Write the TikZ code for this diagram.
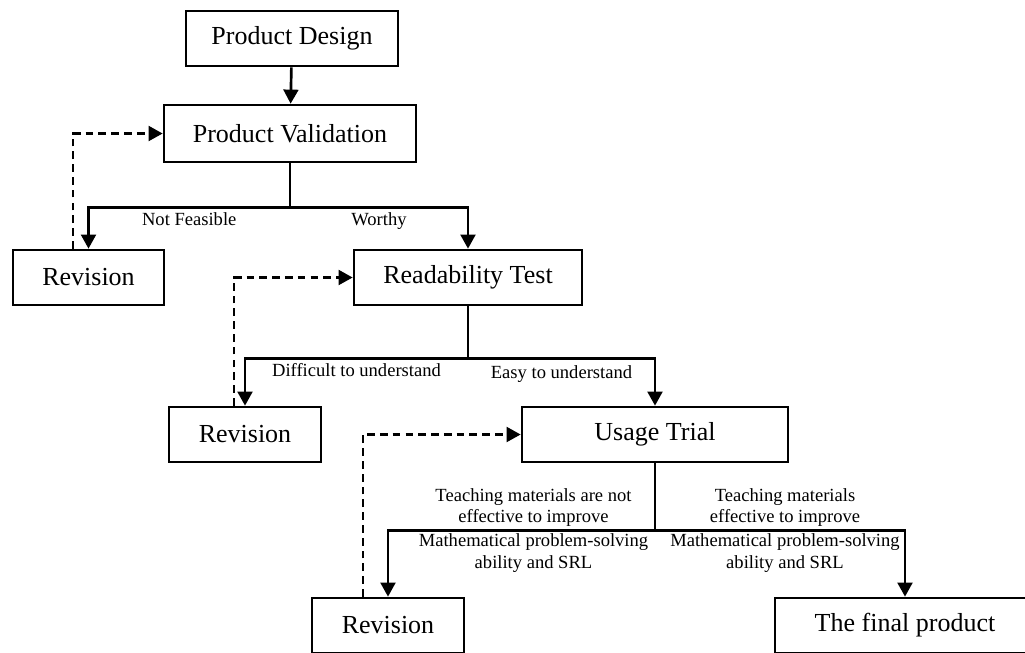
\documentclass[tikz,border=0pt]{standalone}
\usepackage{fontspec}
\setmainfont{Liberation Serif}
\usetikzlibrary{arrows.meta}

\begin{document}
\begin{tikzpicture}[
    Box/.style={draw,line width=1.9pt,minimum height=1.375cm,inner sep=2pt,font=\fontsize{18.5}{22}\selectfont},
    Line/.style={-{Triangle[length=10pt,width=10.5pt]},line width=1.9pt},
    Feedback/.style={Line,dash pattern=on 5.5pt off 3.6pt},
    Label/.style={font=\fontsize{13.2}{15.6}\selectfont,align=center,inner sep=1.5pt},
    ]

    \useasboundingbox (0,0) rectangle (25.625,-16.3);

    \node[Box,minimum width=5.3cm]  at (7.3,-0.9625)     (Design)   {Product Design};
    \node[Box,minimum width=6.3cm,minimum height=1.425cm] at (7.25,-3.3375) (Valid) {Product Validation};
    \node[Box,minimum width=3.775cm] at (2.2125,-6.9375) (RevA)     {Revision};
    \node[Box,minimum width=5.7cm]  at (11.7,-6.9375)    (Read)     {Readability Test};
    \node[Box,minimum width=3.8cm]  at (6.125,-10.8625)  (RevB)     {Revision};
    \node[Box,minimum width=6.65cm] at (16.375,-10.8625) (Trial)    {Usage Trial};
    \node[Box,minimum width=3.8cm]  at (9.7,-15.6375)    (RevC)     {Revision};
    \node[Box,minimum width=6.5cm]  at (22.625,-15.6375) (Final)    {The final product};

    \draw[Line] (Design) -- (Valid);

    \draw[Line] (Valid.south) -- ++(0,-1.1) -| (RevA.north) node[Label,pos=0.25,below=1pt] {Not Feasible};
    \draw[Line] (Valid.south) -- ++(0,-1.1) -| (Read.north) node[Label,pos=0.25,below=1pt] {Worthy};

    \draw[Line] (Read.south) -- ++(0,-1.3) -| (RevB.north) node[Label,pos=0.25,below=1pt] {Difficult to understand};
    \draw[Line] (Read.south) -- ++(0,-1.3) -| (Trial.north) node[Label,pos=0.25,below=3pt] {Easy to understand};

    \draw[Line] (Trial.south) -- ++(0,-1.675) -| (RevC.north)
        node[Label,pos=0.25,above,xshift=0.3cm] {Teaching materials are not\\effective to improve}
        node[Label,pos=0.25,below,xshift=0.3cm] {Mathematical problem-solving\\ability and SRL};
    \draw[Line] (Trial.south) -- ++(0,-1.675) -| (Final.north)
        node[Label,pos=0.25,above,xshift=0.125cm] {Teaching materials\\effective to improve}
        node[Label,pos=0.25,below,xshift=0.125cm] {Mathematical problem-solving\\ability and SRL};

    % revisions go back
    \draw[Feedback] ([xshift=-0.39cm]RevA.north) |- (Valid.west);
    \draw[Feedback] ([xshift=-0.275cm]RevB.north) |- (Read.west);
    \draw[Feedback] ([xshift=-0.625cm]RevC.north) |- (Trial.west);
\end{tikzpicture}
\end{document}
